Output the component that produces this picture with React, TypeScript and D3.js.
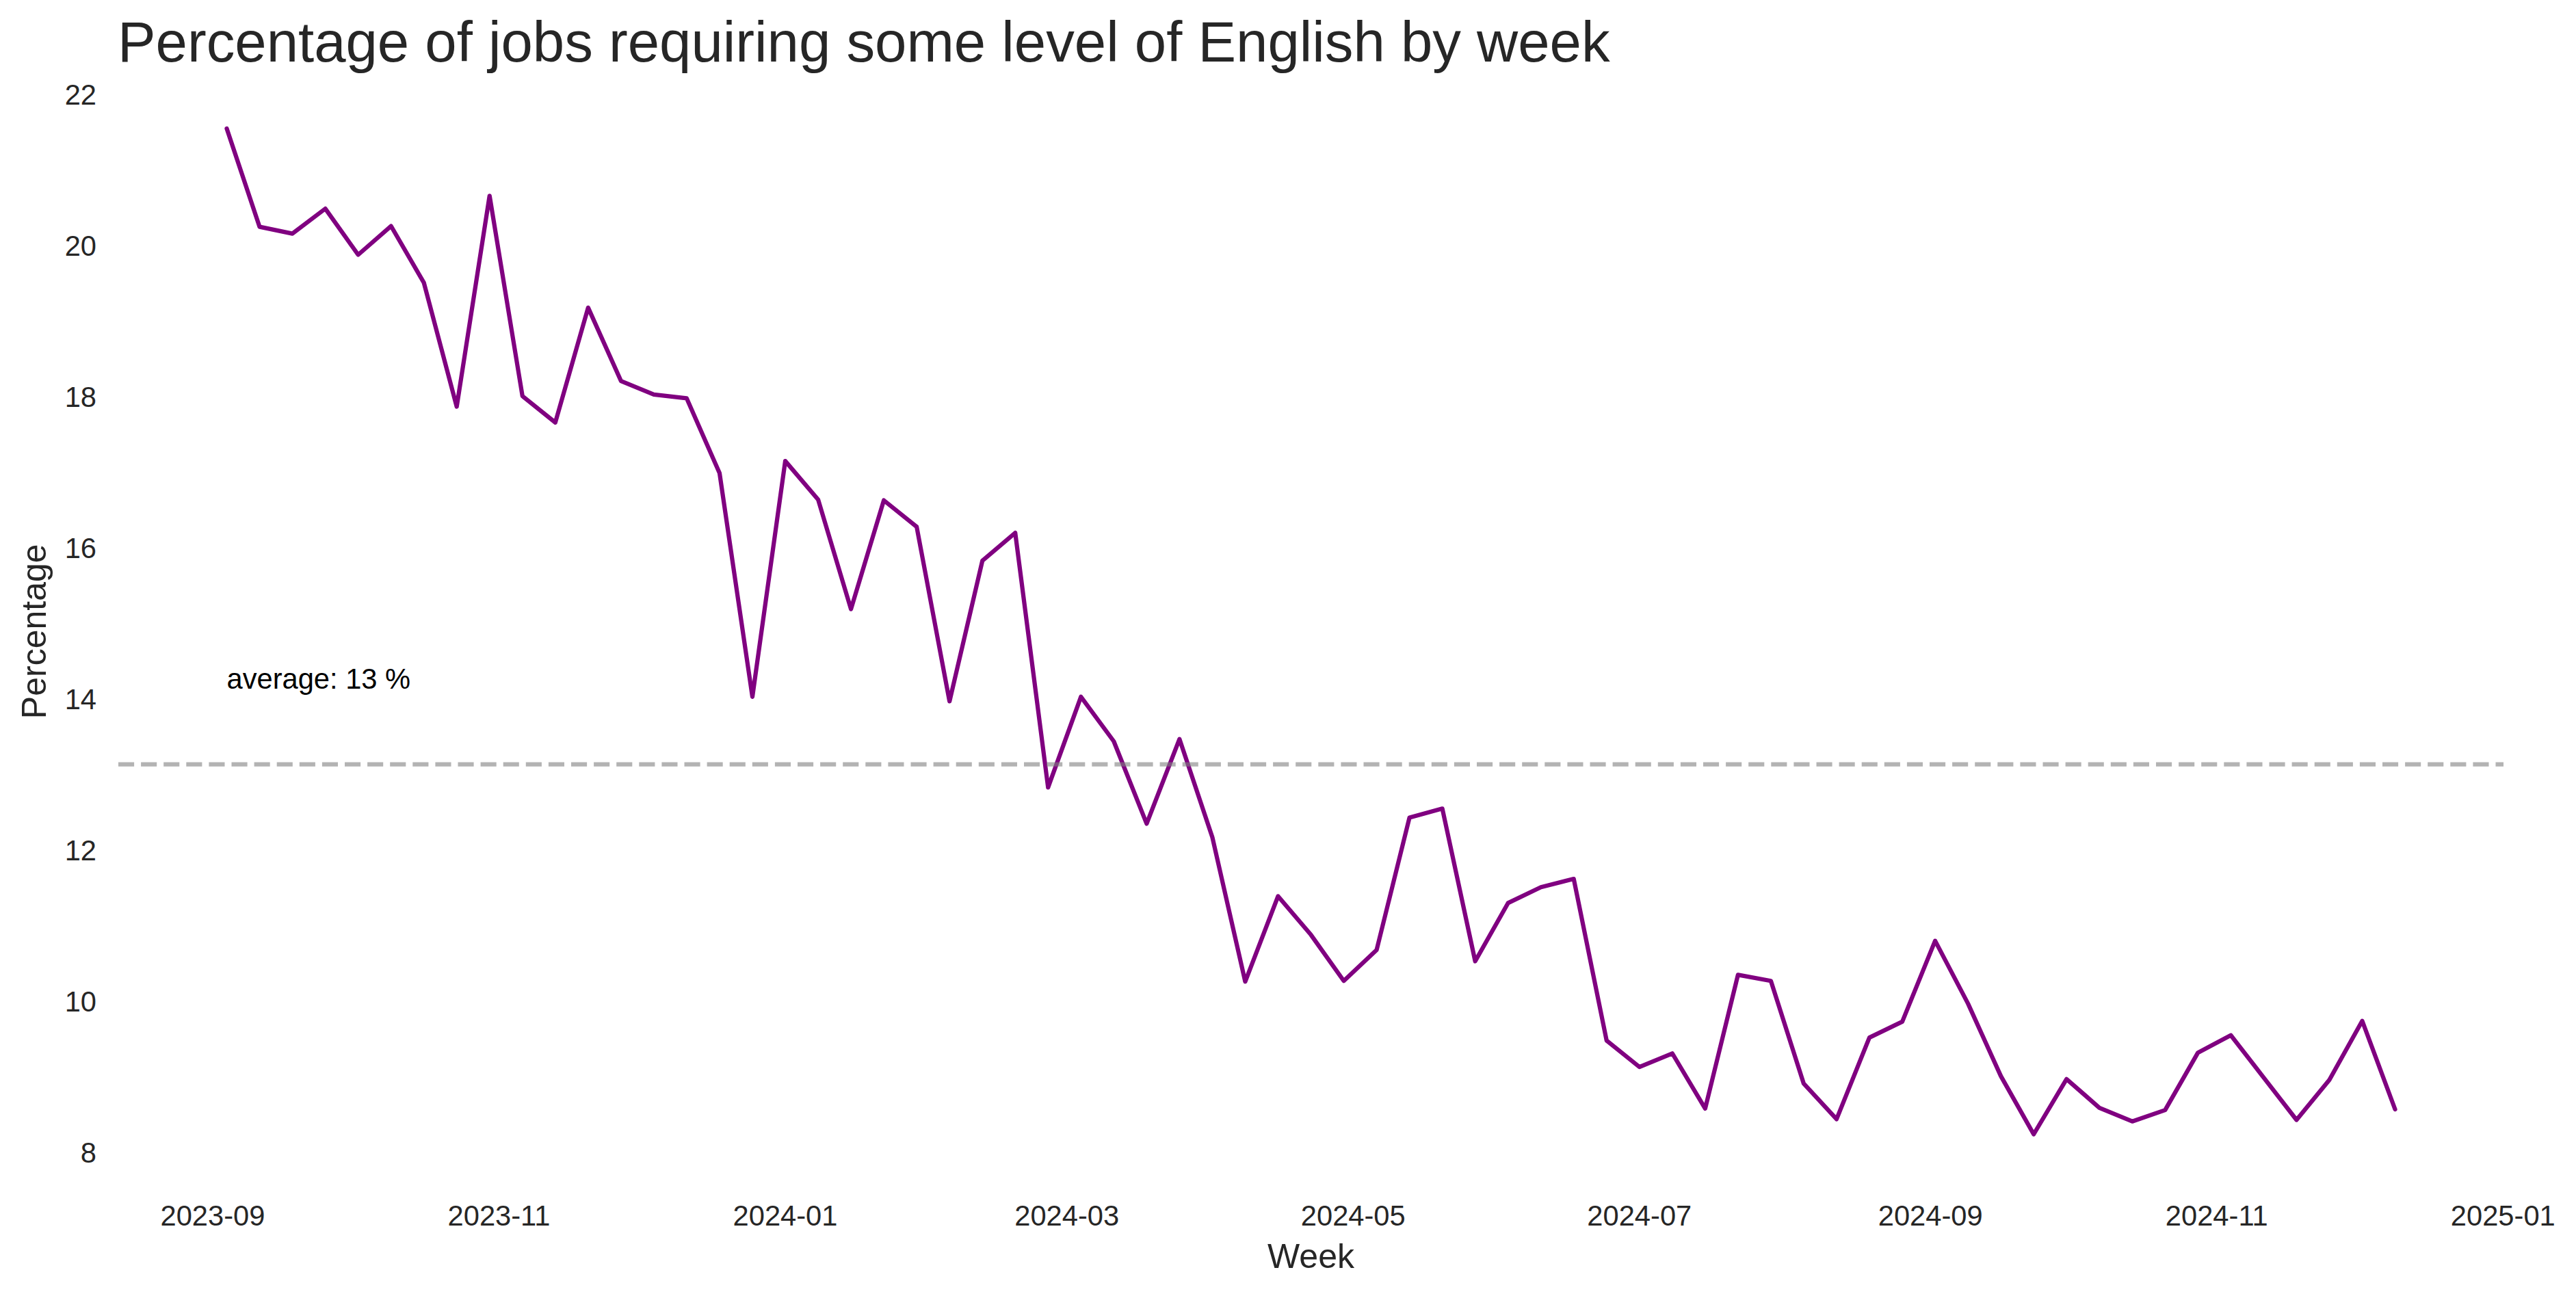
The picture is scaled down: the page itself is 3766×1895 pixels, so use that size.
import React from "react";
import * as d3 from "d3";

const startWeek = "2023-09-04";
const weeklyPct: number[] = [
  21.55, 20.25, 20.16, 20.49, 19.88, 20.26, 19.51, 17.87, 20.66, 18.01,
  17.66, 19.18, 18.21, 18.03, 17.98, 16.99, 14.03, 17.15, 16.64, 15.19,
  16.63, 16.28, 13.97, 15.83, 16.2, 12.83, 14.03, 13.44, 12.35, 13.47,
  12.17, 10.26, 11.39, 10.88, 10.27, 10.68, 12.43, 12.55, 10.53, 11.3,
  11.51, 11.62, 9.48, 9.13, 9.31, 8.58, 10.35, 10.27, 8.91, 8.44,
  9.52, 9.73, 10.8, 9.97, 9.01, 8.24, 8.97, 8.59, 8.41, 8.56,
  9.32, 9.55, 8.99, 8.43, 8.96, 9.74, 8.57,
];
const yTickValues = [8, 10, 12, 14, 16, 18, 20, 22];
const titleText = "Percentage of jobs requiring some level of English by week";
const xLabelText = "Week";
const yLabelText = "Percentage";

const W = 3766;
const H = 1895;
const FONT = "'Liberation Sans', Arial, Helvetica, sans-serif";
const TXT = "#262626";

export default function App() {
  const parse = d3.utcParse("%Y-%m-%d");
  const start = parse(startWeek) as Date;
  const data = weeklyPct.map((v, i) => ({ date: d3.utcDay.offset(start, i * 7), v }));

  const left = 173;
  const right = 3660;
  const top = 114.5;
  const bottom = 1732;

  const [d0, d1] = d3.extent(data, (d) => d.date) as [Date, Date];
  const span = +d1 - +d0;
  const x = d3
    .scaleUtc()
    .domain([new Date(+d0 - span * 0.05), new Date(+d1 + span * 0.05)])
    .range([left, right]);

  const [vmin, vmax] = d3.extent(data, (d) => d.v) as [number, number];
  const vr = vmax - vmin;
  const y = d3
    .scaleLinear()
    .domain([vmin - vr * 0.05, vmax + vr * 0.05])
    .range([bottom, top]);

  const line = d3
    .line<{ date: Date; v: number }>()
    .x((d) => x(d.date))
    .y((d) => y(d.v));

  const avg = d3.mean(data, (d) => d.v) as number;
  const xTicks = x.ticks(d3.utcMonth.every(2) as any);
  const fmt = d3.utcFormat("%Y-%m");

  return (
    <svg
      width={W}
      height={H}
      style={{ position: "absolute", left: 0, top: 0, background: "#fff" }}
      fontFamily={FONT}
    >
      <rect x={0} y={0} width={W} height={H} fill="#fff" />
      <text x={172} y={90} fontSize={83.33} fill={TXT}>
        {titleText}
      </text>

      {yTickValues.map((t) => (
        <text key={t} x={141} y={y(t) + 15} fontSize={41.67} fill={TXT} textAnchor="end">
          {t}
        </text>
      ))}

      {xTicks.map((t) => (
        <text key={+t} x={x(t)} y={1792} fontSize={41.67} fill={TXT} textAnchor="middle">
          {fmt(t)}
        </text>
      ))}

      <text x={(left + right) / 2} y={1854} fontSize={50} fill={TXT} textAnchor="middle">
        {xLabelText}
      </text>
      <text
        transform={`translate(67,${(top + bottom) / 2}) rotate(-90)`}
        fontSize={50}
        fill={TXT}
        textAnchor="middle"
      >
        {yLabelText}
      </text>

      <path
        d={line(data) ?? ""}
        fill="none"
        stroke="purple"
        strokeWidth={6.25}
        strokeLinejoin="round"
        strokeLinecap="round"
      />

      <line
        x1={left}
        x2={right}
        y1={y(avg)}
        y2={y(avg)}
        stroke="gray"
        strokeOpacity={0.6}
        strokeWidth={6.25}
        strokeDasharray="23.1 10"
      />
      <text x={x(d0)} y={y(avg + 1)} fontSize={41.67} fill="#000">
        {`average: ${Math.round(avg)} %`}
      </text>
    </svg>
  );
}
